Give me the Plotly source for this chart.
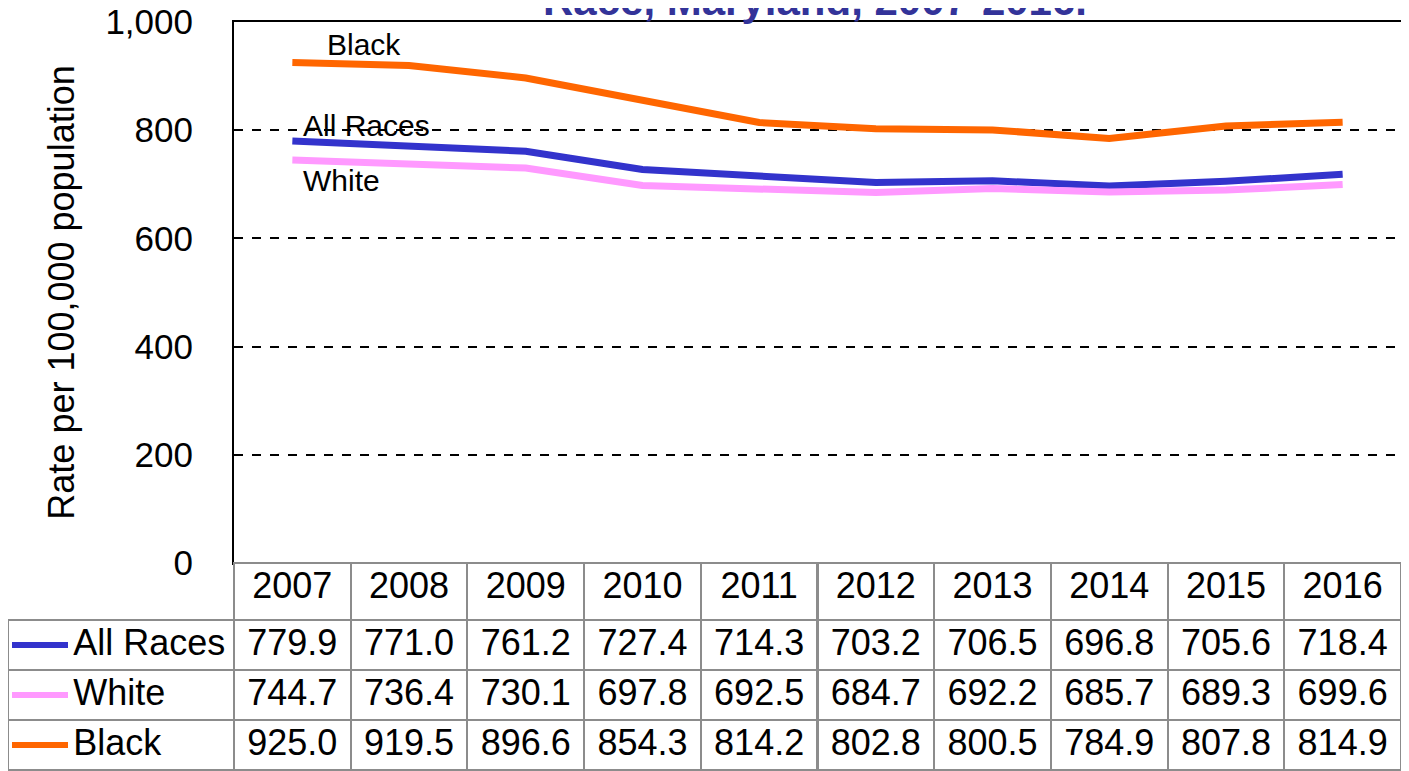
import plotly.graph_objects as go

years = ["2007", "2008", "2009", "2010", "2011", "2012", "2013", "2014", "2015", "2016"]
all_races = [779.9, 771.0, 761.2, 727.4, 714.3, 703.2, 706.5, 696.8, 705.6, 718.4]
white = [744.7, 736.4, 730.1, 697.8, 692.5, 684.7, 692.2, 685.7, 689.3, 699.6]
black = [925.0, 919.5, 896.6, 854.3, 814.2, 802.8, 800.5, 784.9, 807.8, 814.9]
series_names = ["All Races", "White", "Black"]
series_colors = ["#3333CC", "#FF99FF", "#FF6600"]
y_ticks = [0, 200, 400, 600, 800, 1000]
y_tick_labels = ["0", "200", "400", "600", "800", "1,000"]

# the page body has an 8px margin, so the figure starts at page (8, 8)
OFF = 8
W, H = 1409 - OFF, 771 - OFF
ML, MR, MT, MB = 0, 8, 22 - OFF, 0
PW, PH = W - ML - MR, H - MT - MB


def px_x(page_x):
    return (page_x - OFF - ML) / PW


def px_y(page_y):
    return (H - MB - (page_y - OFF)) / PH


plot_left_px, plot_bottom_px = 234, 563
x_dom0 = px_x(plot_left_px)
y_dom0 = px_y(plot_bottom_px)

FONT = "Liberation Sans, Arial, sans-serif"
series = [all_races, white, black]

fig = go.Figure()
for name, vals, col in zip(series_names, series, series_colors):
    fig.add_trace(go.Scatter(
        x=years, y=vals, mode="lines", name=name,
        line=dict(color=col, width=7), showlegend=False,
        xaxis="x", yaxis="y", hoverinfo="x+y+name"))

# data table
nb = "\u00a0" * 5 + "\u2009"
header_vals = [""] + years
cell_vals = [[nb + n.replace(" ", "\u00a0") for n in series_names]] + [
    [f"{s[i]:.1f}" for s in series] for i in range(len(years))]
col_w = [plot_left_px - OFF - ML] + [(W - MR - (plot_left_px - OFF)) / len(years)] * len(years)
border = "#8c8c8c"
fig.add_trace(go.Table(
    domain=dict(x=[0, 1], y=[0, y_dom0]),
    columnwidth=col_w,
    header=dict(values=header_vals, height=57,
                fill=dict(color=["rgba(0,0,0,0)"] + ["white"] * len(years)),
                line=dict(color=["rgba(0,0,0,0)"] + [border] * len(years), width=2),
                align="center", font=dict(family=FONT, size=36, color="black")),
    cells=dict(values=cell_vals, height=50,
               fill=dict(color="white"),
               line=dict(color=border, width=2),
               align=["left"] + ["center"] * len(years),
               font=dict(family=FONT, size=36, color="black")),
))

shapes = []
row_h = 50
for i, col in enumerate(series_colors):
    yp = px_y(620 + row_h * i + row_h / 2)
    shapes.append(dict(type="line", xref="paper", yref="paper",
                       x0=px_x(12), x1=px_x(68), y0=yp, y1=yp,
                       line=dict(color=col, width=6), layer="above"))

annotations = [
    dict(text="Race, Maryland, 2007-2016.", xref="paper", yref="paper",
         x=px_x(815), y=1, xanchor="center", yanchor="bottom", yshift=-4,
         showarrow=False, font=dict(family=FONT, size=42, color="#333399", weight="bold")),
    dict(text="Black", x=0, y=black[0], xref="x", yref="y",
         xanchor="left", yanchor="middle", xshift=33, yshift=18, showarrow=False,
         font=dict(family=FONT, size=30, color="black")),
    dict(text="All Races", x=0, y=all_races[0], xref="x", yref="y",
         xanchor="left", yanchor="middle", xshift=9, yshift=16, showarrow=False,
         font=dict(family=FONT, size=30, color="black")),
    dict(text="White", x=0, y=white[0], xref="x", yref="y",
         xanchor="left", yanchor="middle", xshift=9, yshift=-20, showarrow=False,
         font=dict(family=FONT, size=30, color="black")),
]

fig.update_layout(
    width=W, height=H, margin=dict(l=ML, r=MR, t=MT, b=MB, autoexpand=False),
    paper_bgcolor="white", plot_bgcolor="white",
    xaxis=dict(domain=[x_dom0, 1], type="category", range=[-0.5, len(years) - 0.5],
               showticklabels=False, showgrid=False, zeroline=False, automargin=False,
               showline=True, linecolor="black", linewidth=2, mirror=True, ticks=""),
    yaxis=dict(domain=[y_dom0, 1], range=[0, 1000], tickvals=y_ticks, ticktext=y_tick_labels,
               showgrid=True, gridcolor="black", griddash="dash", gridwidth=1.5,
               zeroline=False, showline=True, linecolor="black", linewidth=2, mirror=True,
               ticks="", ticklabelstandoff=32, automargin=False, ticklabeloverflow="allow",
               tickfont=dict(family=FONT, size=35, color="black"),
               title=dict(text="Rate per 100,000 population", standoff=20,
                          font=dict(family=FONT, size=36, color="black"))),
    shapes=shapes, annotations=annotations,
)

fig.write_html("out.html")
